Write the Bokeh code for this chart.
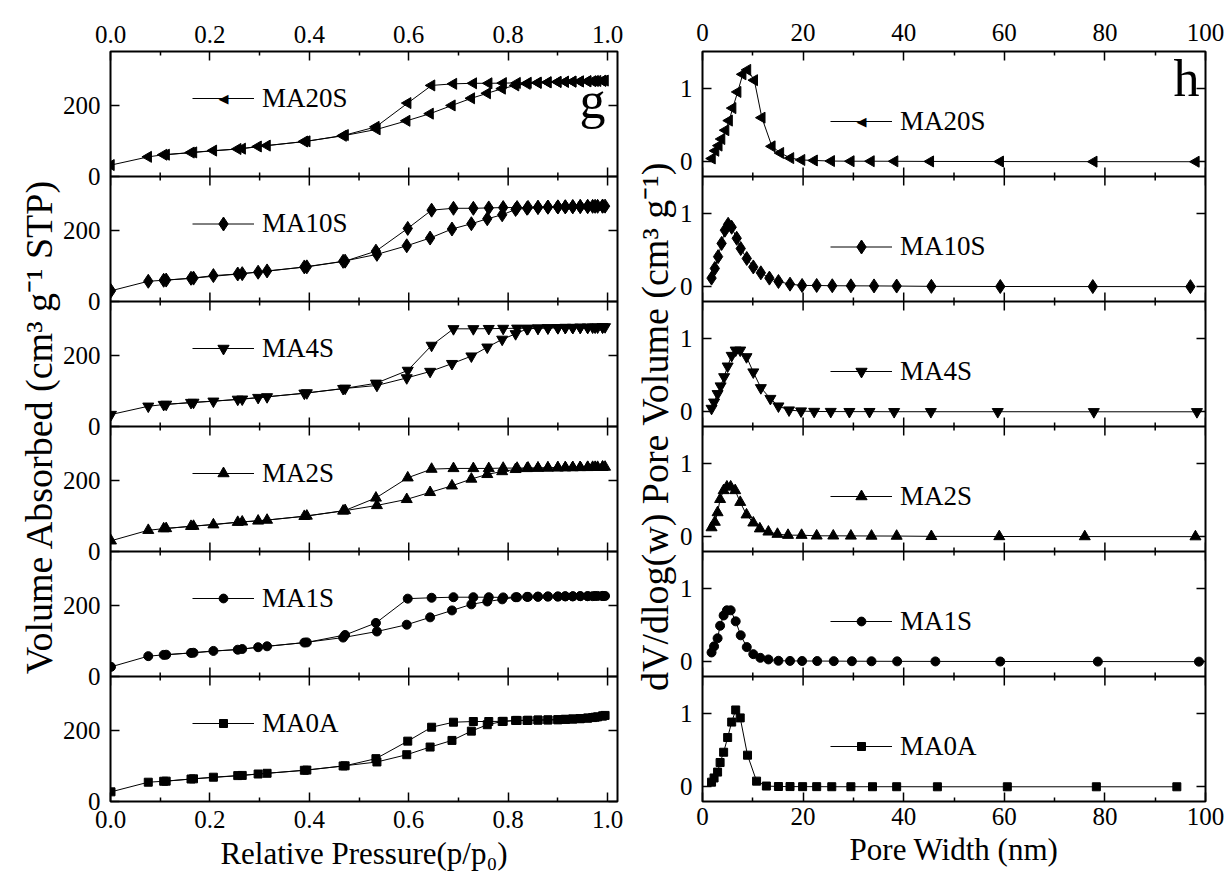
import numpy as np
from bokeh.plotting import figure
from bokeh.models import (Range1d, LinearAxis, FixedTicker, Span, Legend, LegendItem,
                          Label, PrintfTickFormatter)
from bokeh.layouts import row
from bokeh.embed import file_html
from bokeh.resources import INLINE

FONT = "Liberation Serif"

# ---------------- data ----------------
sample_names = ["MA20S", "MA10S", "MA4S", "MA2S", "MA1S", "MA0A"]   # top -> bottom

# N2 isotherms: relative pressure of adsorption / desorption points
ads_p = [0.001, 0.076, 0.107, 0.162, 0.207, 0.256, 0.297, 0.39, 0.468, 0.536, 0.596,
         0.643, 0.687, 0.726, 0.758, 0.788, 0.815, 0.838, 0.86, 0.88, 0.9, 0.915,
         0.93, 0.945, 0.96, 0.97, 0.98, 0.99, 0.995]
des_p = [0.99, 0.975, 0.96, 0.945, 0.93, 0.915, 0.9, 0.88, 0.86, 0.84, 0.818, 0.79,
         0.761, 0.73, 0.69, 0.646, 0.598, 0.534, 0.472, 0.395, 0.315, 0.265, 0.167, 0.112]

ma20s_ads = [32, 55, 61, 67, 72.5, 77, 84, 98, 114, 132, 156, 176, 199, 219, 233, 246,
             255, 259.5, 262, 263.5, 264.5, 265, 265.5, 266, 266.5, 267, 267.5, 268, 268.5]
ma20s_des = [268, 267.5, 267, 266.5, 266, 265.5, 265, 264, 263, 262.5, 262, 261.5, 261,
             261, 259.5, 255, 205.6, 139, 116, 98.5, 86.5, 78, 67.5, 61]

ma10s_ads = [30, 56.7, 59.5, 65, 72.5, 77, 82, 96.7, 112.5, 132, 156, 177.7, 203, 217.7,
             231.6, 242.8, 257.7, 261, 263, 264, 264.5, 265, 265.5, 266, 266, 266.5,
             266.5, 267, 267]
ma10s_des = [267, 266.5, 266, 266, 265.5, 265, 265, 264.5, 264, 263.5, 263, 263, 262,
             261, 261, 255.8, 204.7, 141, 113, 97, 85.6, 78, 65.5, 60]

ma4s_ads = [33.5, 56.7, 61.4, 67, 70.7, 76, 81, 93, 106, 115, 136, 154, 176, 197, 222,
            244, 259.5, 273.5, 275, 276, 276.5, 277, 277, 277.5, 277.5, 278, 278, 278.5, 279]
ma4s_des = [278.5, 278, 277.5, 277.5, 277, 277, 276.5, 276, 275.5, 275, 275, 274.5, 274,
            273.5, 273.5, 227, 157, 121, 107, 94, 83, 76.5, 67.5, 62]

ma2s_ads = [30, 59.5, 64, 70.7, 75, 82, 85.6, 98.6, 113.5, 129, 146, 165.6, 184, 203, 216,
            224, 230, 232.6, 233.5, 234, 234.5, 235, 235, 235.5, 235.5, 236, 236, 236.5, 236.5]
ma2s_des = [236.5, 236, 236, 235.5, 235.5, 235, 235, 234.5, 234, 234, 233.5, 233.5, 232.6,
            232.6, 232.6, 230.7, 206.5, 150, 115, 99.5, 88, 83, 71, 64.5]

ma1s_ads = [27, 57, 60.5, 66, 71.6, 75, 82, 95, 109, 126, 145, 165.6, 185, 202, 210, 216,
            222, 223, 223.5, 224, 224, 224.5, 224.5, 225, 225, 225, 225.5, 225.5, 225.5]
ma1s_des = [225.5, 225.5, 225, 225, 224.5, 224.5, 224, 224, 223.5, 223, 222, 221.5, 222,
            222, 222, 220.5, 218, 150, 116.3, 95.5, 84.6, 77, 66.5, 61]

ma0a_ads = [27, 54, 56.7, 63, 68, 72.5, 77, 87.4, 99.5, 110.7, 131, 152.5, 171, 197, 215,
            224, 227, 227, 228, 228.5, 229, 230, 231, 232, 233.5, 235, 237, 239.5, 241]
ma0a_des = [239.5, 236, 233.5, 232, 231, 230, 229, 228.5, 228, 227.5, 227, 224.5, 224,
            224, 222, 208, 169, 120, 100, 88, 79, 73, 63.5, 57]

# Pore size distributions: pore width (nm) and dV/dlog(w)
ma20s_w = [1.9, 2.6, 3.25, 3.8, 4.6, 5.3, 6.0, 7.0, 8.0, 8.95, 10.3, 11.8, 13.8, 15.5,
           17.5, 19.7, 22.2, 25.6, 29.5, 33.5, 38.2, 45.3, 59.2, 77.8, 98.1]
ma20s_dv = [0.045, 0.15, 0.22, 0.31, 0.43, 0.56, 0.73, 0.95, 1.19, 1.25, 1.11, 0.6, 0.21,
            0.12, 0.05, 0.025, 0.018, 0.01, 0.008, 0.008, 0.007, 0.005, 0.003, 0.002, 0.001]

ma10s_w = [1.8, 2.45, 3.1, 3.8, 4.45, 5.1, 5.8, 6.8, 7.6, 8.8, 10.1, 11.6, 13.3, 15.1,
           17.4, 19.8, 22.7, 25.8, 29.5, 34.1, 38.6, 45.5, 59.2, 77.6, 97.0]
ma10s_dv = [0.118, 0.25, 0.41, 0.59, 0.77, 0.85, 0.81, 0.66, 0.52, 0.385, 0.27, 0.19, 0.118,
            0.072, 0.036, 0.018, 0.018, 0.014, 0.013, 0.012, 0.01, 0.006, 0.004, 0.003, 0.002]

ma4s_w = [1.8, 2.3, 3.0, 3.6, 4.3, 5.0, 5.8, 6.6, 7.5, 8.75, 10.1, 11.6, 13.5, 15.1, 17.2,
          19.6, 22.2, 25.5, 29.2, 33.2, 38.1, 45.4, 58.7, 77.8, 98.3]
ma4s_dv = [0.045, 0.13, 0.245, 0.35, 0.475, 0.62, 0.765, 0.837, 0.837, 0.747, 0.54, 0.326,
           0.18, 0.077, 0.023, 0.01, 0.004, 0.003, 0.002, 0.002, 0.001, 0.001, 0.001, 0.0, 0.0]

ma2s_w = [1.8, 2.45, 3.0, 3.5, 4.2, 4.85, 5.6, 6.5, 7.5, 8.75, 10.1, 11.4, 13.1, 14.9, 17.0,
          19.7, 22.7, 26.0, 29.5, 33.6, 38.6, 45.5, 59.0, 76.0, 98.0]
ma2s_dv = [0.125, 0.2, 0.33, 0.51, 0.63, 0.68, 0.68, 0.63, 0.47, 0.3, 0.19, 0.11, 0.067,
           0.036, 0.022, 0.022, 0.013, 0.013, 0.012, 0.011, 0.01, 0.006, 0.004, 0.003, 0.002]

ma1s_w = [1.8, 2.3, 3.0, 3.5, 4.2, 4.85, 5.6, 6.6, 7.6, 8.8, 10.1, 11.5, 13.1, 15.1, 17.4,
          19.8, 22.8, 26.1, 29.7, 33.6, 38.7, 46.3, 59.2, 78.6, 98.7]
ma1s_dv = [0.127, 0.21, 0.32, 0.49, 0.63, 0.70, 0.70, 0.55, 0.36, 0.2, 0.104, 0.054, 0.032,
           0.014, 0.012, 0.011, 0.01, 0.009, 0.008, 0.007, 0.006, 0.005, 0.004, 0.003, 0.002]

ma0a_w = [1.8, 2.3, 3.0, 3.5, 4.2, 5.0, 5.8, 6.6, 7.5, 8.95, 10.75, 12.7, 15.1, 17.4, 19.9,
          22.7, 25.7, 29.5, 33.8, 38.6, 46.7, 60.6, 78.3, 94.3]
ma0a_dv = [0.063, 0.12, 0.2, 0.33, 0.47, 0.67, 0.88, 1.045, 0.937, 0.43, 0.077, 0.01, 0.004,
           0.003, 0.002, 0.002, 0.001, 0.001, 0.001, 0.001, 0.0, 0.0, 0.0, 0.0]

iso_ads = [ma20s_ads, ma10s_ads, ma4s_ads, ma2s_ads, ma1s_ads, ma0a_ads]
iso_des = [ma20s_des, ma10s_des, ma4s_des, ma2s_des, ma1s_des, ma0a_des]
psd_w = [ma20s_w, ma10s_w, ma4s_w, ma2s_w, ma1s_w, ma0a_w]
psd_dv = [ma20s_dv, ma10s_dv, ma4s_dv, ma2s_dv, ma1s_dv, ma0a_dv]

left_x_ticks = [0.0, 0.2, 0.4, 0.6, 0.8, 1.0]
left_x_minor = [0.1, 0.3, 0.5, 0.7, 0.9]
left_y_ticks = [0, 200]
right_x_ticks = [0, 20, 40, 60, 80, 100]
right_x_minor = [10, 30, 50, 70, 90]
right_y_ticks = [0, 1]

# ---------------- styling ----------------
markers = ["triangle", "diamond", "inverted_triangle", "triangle", "circle", "square"]
m_angle = [np.pi / 2, 0, 0, 0, 0, 0]
m_size = [11, 14, 11, 11, 9, 8]

N = 6
FRAME_H = 750
PANEL_H = FRAME_H / N
TICK_FS = "25px"
XTITLE_FS = "31px"
YTITLE_FS = "38px"
LEG_FS = "27px"
ROW_H = 36


def style_axis(ax, labels=True, standoff=8):
    ax.axis_line_color = None
    ax.major_tick_in = 9
    ax.major_tick_out = 0
    ax.minor_tick_in = 4
    ax.minor_tick_out = 0
    ax.major_tick_line_width = 1.5
    ax.minor_tick_line_width = 1.5
    ax.major_label_text_font = FONT
    ax.axis_label_text_font = FONT
    ax.axis_label_text_font_style = "normal"
    ax.axis_label_text_color = "black"
    ax.major_label_text_font_size = TICK_FS
    if labels:
        ax.major_label_text_color = "black"
        ax.major_label_standoff = standoff
    else:
        ax.major_label_text_color = None
        ax.major_label_text_font_size = "1px"
        ax.major_label_standoff = 0


def build(kind):
    if kind == "iso":
        band, lo, span_v = 350, 0.0, 350.0
        xr = Range1d(0, 1.02)
        fw, mbl, mbr, mbt, mbb = 507, 110, 10, 46, 80
        xt, xm, yt = left_x_ticks, left_x_minor, left_y_ticks
        fmt = PrintfTickFormatter(format="%.1f")
        xlabel = "Relative Pressure(p/p\u2080)"
        ylabel = "Volume Absorbed (cm\u00b3 g\u207b\u00b9 STP)"
        top_so, bot_so, xl_so, yl_so = 9, 9, 5, 0
        leg_x, leg_dy = 82, 47
        tag, tag_x, tag_y = "g", 495, 701
    else:
        band, lo, span_v = 170, -0.2, 1.7
        xr = Range1d(0, 100)
        fw, mbl, mbr, mbt, mbb = 503, 75, 22, 51, 75
        xt, xm, yt = right_x_ticks, right_x_minor, right_y_ticks
        fmt = PrintfTickFormatter(format="%d")
        xlabel = "Pore Width (nm)"
        ylabel = "dV/dlog(w) Pore Volume (cm\u00b3 g\u207b\u00b9)"
        top_so, bot_so, xl_so, yl_so = 11, 6, 4, 1
        leg_x, leg_dy = 128, 70
        tag, tag_x, tag_y = "h", 497, 723

    p = figure(frame_width=fw, frame_height=FRAME_H, x_range=xr,
               y_range=Range1d(0, N * band),
               min_border_left=mbl, min_border_right=mbr,
               min_border_top=mbt, min_border_bottom=mbb,
               x_axis_location=None, y_axis_location=None,
               output_backend="svg", toolbar_location=None)
    p.outline_line_color = "black"
    p.outline_line_width = 2
    p.background_fill_color = "white"
    p.border_fill_color = "white"
    p.grid.visible = False

    # tick positions of each stacked panel in the default y range
    scale = band / span_v
    y_tick_pos, y_over = [], {}
    for b in range(N):
        for v in yt:
            pos = int(round(b * band + (v - lo) * scale))
            y_tick_pos.append(pos)
            y_over[pos] = str(v)

    xticker = FixedTicker(ticks=xt, minor_ticks=xm)
    yticker = FixedTicker(ticks=y_tick_pos, minor_ticks=[])

    ax_b = LinearAxis(ticker=xticker, formatter=fmt, axis_label=xlabel)
    style_axis(ax_b, True, bot_so)
    ax_b.axis_label_standoff = xl_so
    ax_b.axis_label_text_font_size = XTITLE_FS
    ax_t = LinearAxis(ticker=xticker, formatter=fmt)
    style_axis(ax_t, True, top_so)
    ax_l = LinearAxis(ticker=yticker, major_label_overrides=y_over, axis_label=ylabel)
    style_axis(ax_l, True, 10)
    ax_l.axis_label_standoff = yl_so
    ax_l.axis_label_text_font_size = YTITLE_FS
    ax_r = LinearAxis(ticker=yticker)
    style_axis(ax_r, False)
    p.add_layout(ax_b, "below")
    p.add_layout(ax_t, "above")
    p.add_layout(ax_l, "left")
    p.add_layout(ax_r, "right")

    # panel separators and their inward x ticks (both sides)
    upp = N * band / FRAME_H
    sx, sy0, sy1 = [], [], []
    for b in range(1, N):
        p.add_layout(Span(location=b * band, dimension="width",
                          line_color="black", line_width=2))
        for t in xt:
            sx.append(t); sy0.append(b * band - 9 * upp); sy1.append(b * band + 9 * upp)
        for t in xm:
            sx.append(t); sy0.append(b * band - 4 * upp); sy1.append(b * band + 4 * upp)
    p.segment(x0=sx, y0=sy0, x1=sx, y1=sy1, line_color="black", line_width=1.5)

    for i, name in enumerate(sample_names):
        b = N - 1 - i
        rname = "panel%d" % i
        p.extra_y_ranges[rname] = Range1d(start=lo - b * span_v, end=lo + (N - b) * span_v)
        if kind == "iso":
            series = [(ads_p, iso_ads[i]), (des_p, iso_des[i])]
        else:
            series = [(psd_w[i], psd_dv[i])]
        rends = []
        for xs, ys in series:
            lr = p.line(xs, ys, line_color="black", line_width=1, y_range_name=rname)
            sr = p.scatter(xs, ys, marker=markers[i], size=m_size[i], angle=m_angle[i],
                           fill_color="black", line_color="black", y_range_name=rname)
            if not rends:
                rends = [lr] if m_angle[i] else [lr, sr]
        center = FRAME_H - PANEL_H * i - leg_dy
        gh = m_size[i] / 0.4
        leg = Legend(items=[LegendItem(label=name, renderers=rends)],
                     location=(leg_x, center - ROW_H / 2),
                     glyph_width=62, glyph_height=int(round(gh)), label_height=ROW_H,
                     label_standoff=8, padding=0, margin=0, spacing=0,
                     border_line_color=None, background_fill_alpha=0,
                     label_text_font=FONT, label_text_font_size=LEG_FS,
                     label_text_color="black")
        p.add_layout(leg)
        if m_angle[i]:
            # legend marker for the rotated (left-pointing) triangle
            p.add_layout(Label(x=leg_x + 31, y=center, x_units="screen", y_units="screen",
                               text="\u25c0", text_align="center", text_baseline="middle",
                               text_font="DejaVu Sans", text_font_size="13px",
                               text_color="black"))

    p.add_layout(Label(x=tag_x, y=tag_y, x_units="screen", y_units="screen", text=tag,
                       text_align="right", text_baseline="middle",
                       text_font=FONT, text_font_size="52px", text_color="black"))
    return p


left = build("iso")
right = build("psd")
layout = row(left, right)

open("out.html", "w").write(file_html(layout, INLINE))
